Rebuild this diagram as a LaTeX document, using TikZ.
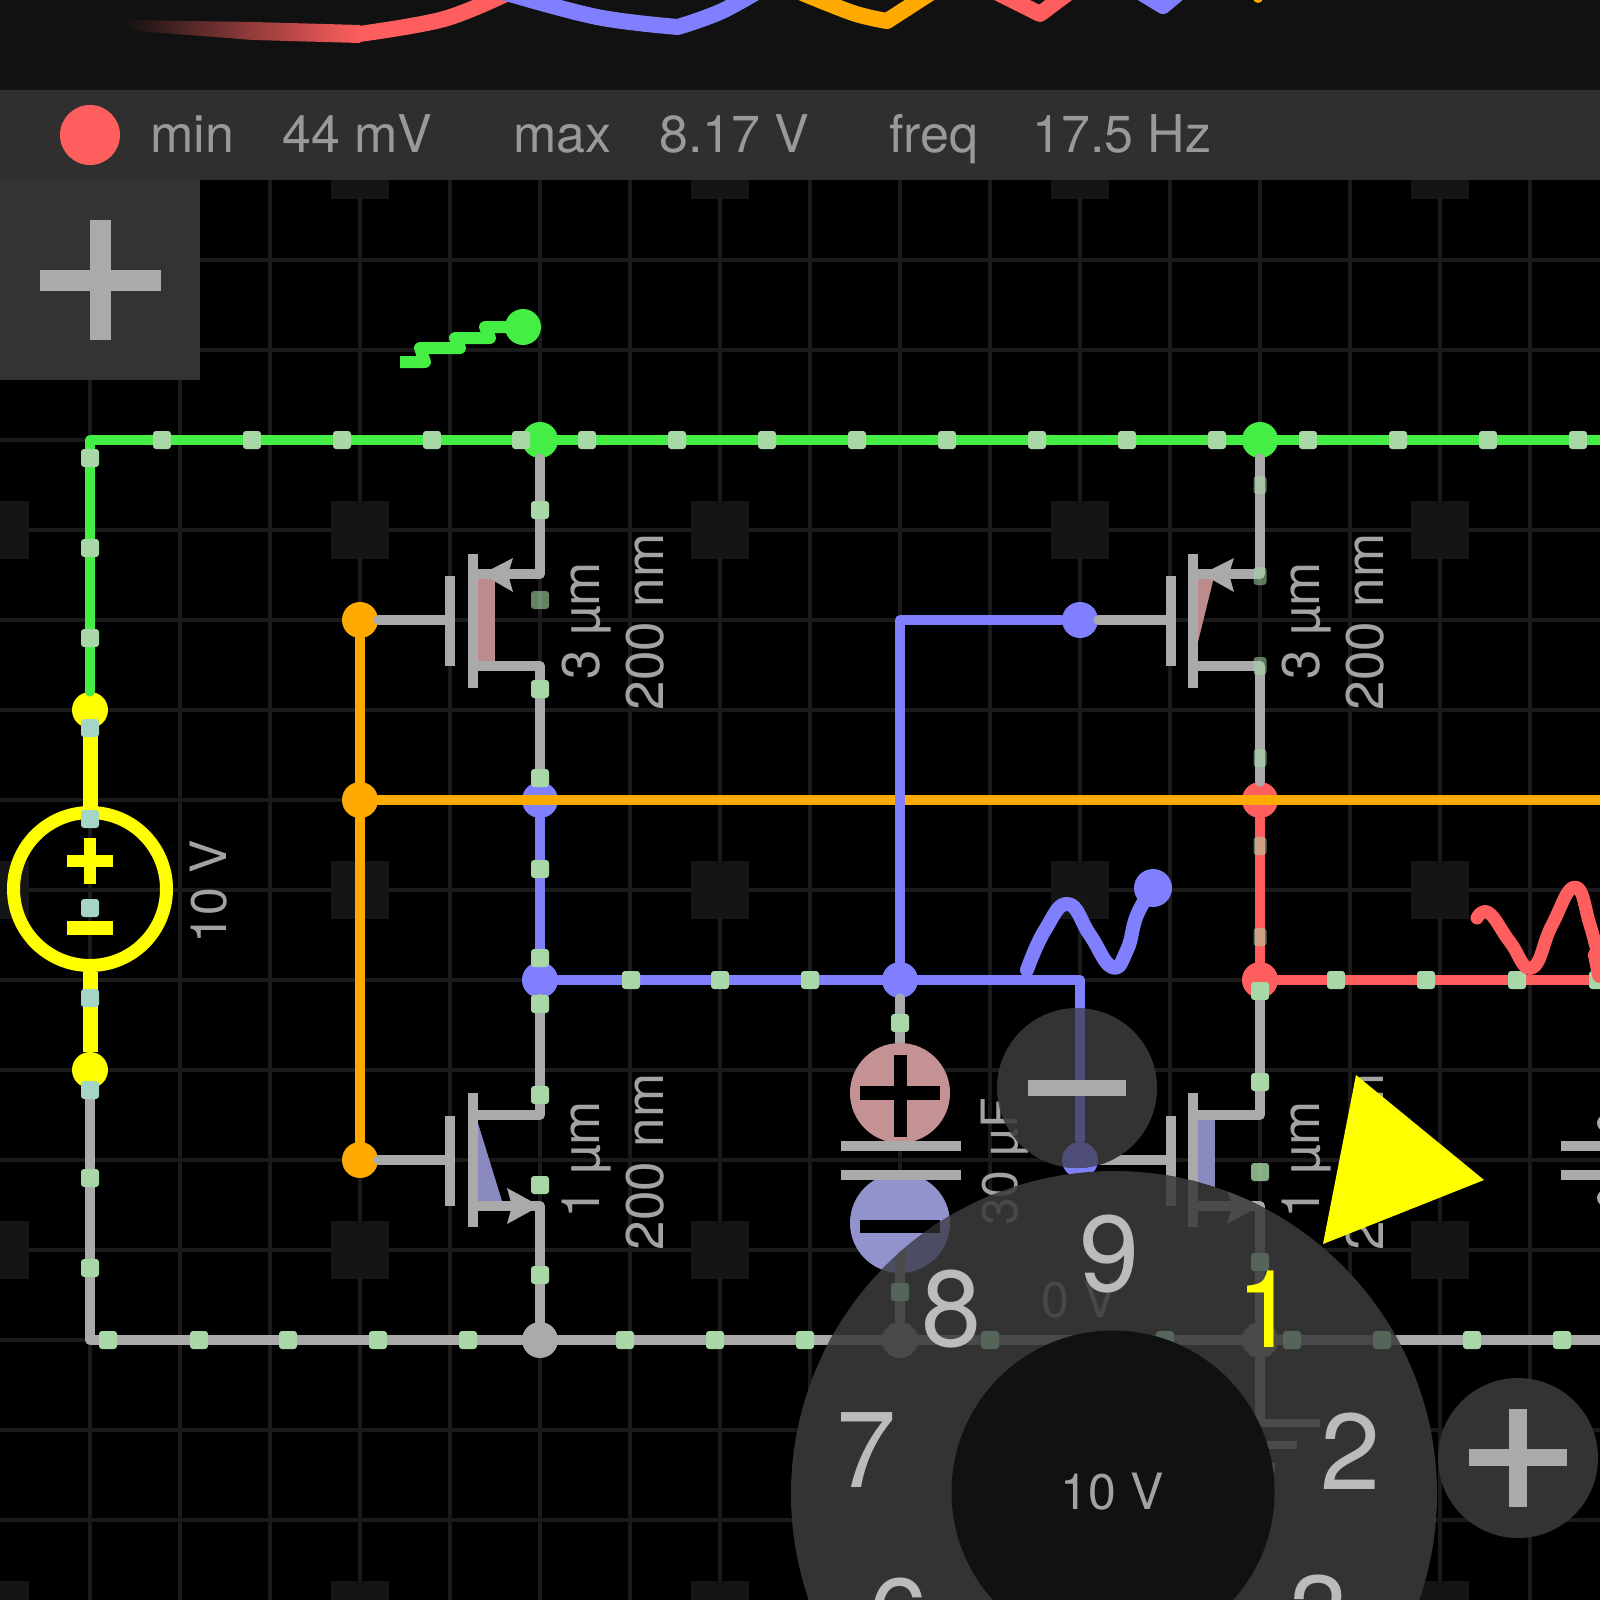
\documentclass[tikz,border=0pt]{standalone}
\usepackage{fontspec}
\setmainfont{TeX Gyre Heros}
\newcommand{\szf}[1]{\fontsize{#1}{#1}\selectfont}
\definecolor{wgreen}{HTML}{44EE44}
\definecolor{wblue}{HTML}{8080FF}
\definecolor{worange}{HTML}{FFAA00}
\definecolor{wred}{HTML}{FF5E5E}
\definecolor{wyellow}{HTML}{FFFF00}
\definecolor{wgray}{HTML}{AAAAAA}
\definecolor{gridc}{HTML}{1A1A1A}
\definecolor{squarec}{HTML}{151515}
\definecolor{scopebg}{HTML}{111111}
\definecolor{barbg}{HTML}{2F2F2F}
\definecolor{panelbg}{HTML}{333333}
\definecolor{dotc}{HTML}{A8D8A8}
\definecolor{dotyc}{HTML}{A5D5C5}
\definecolor{pinkf}{HTML}{BC8C8C}
\definecolor{bluef}{HTML}{8A8AC0}
\definecolor{pinkc}{HTML}{C49292}
\definecolor{bluec}{HTML}{9292CC}
\definecolor{statc}{HTML}{999999}
\definecolor{lblc}{HTML}{A2A2A2}
\definecolor{digitc}{HTML}{BBBBBB}
\definecolor{dimgray}{HTML}{4A4A4A}
\definecolor{dimtext}{HTML}{484848}
\definecolor{dimdotc}{HTML}{55655A}
\definecolor{dimblue}{HTML}{4D4D78}
\definecolor{dimbluec}{HTML}{4C4C62}
\tikzset{
  grid line/.style={gridc,line width=4.5pt},
  darksquare/.style={rectangle,fill=squarec,minimum size=58pt,inner sep=0pt},
  jct/.style={circle,minimum size=36pt,inner sep=0pt,fill=#1},
  cdot/.style={rectangle,rounded corners=3pt,minimum size=18pt,inner sep=0pt,fill=dotc},
  ydot/.style={cdot,fill=dotyc},
  dimdot/.style={cdot,fill=dotc,fill opacity=.6},
  narrowdot/.style={cdot,minimum width=13pt,fill opacity=.55},
  faintdot/.style={cdot,fill=dimdotc},
  wire/.style={#1,line width=9.5pt,line cap=round,line join=round},
  trace/.style={#1,line width=14pt,line cap=round,line join=round},
  scopetrace/.style={#1,line width=16pt,line join=round},
  mosbar/.style={#1,line width=10pt},
  mosbar/.default=wgray,
  lbl/.style={text=lblc,inner sep=0pt,font=\szf{50}},
  wlbl/.style={text=lblc,inner sep=0pt,font=\szf{53}},
  stat/.style={text=statc,inner sep=0pt,anchor=base west,font=\szf{52}},
  dialnum/.style={text=digitc,inner sep=0pt,font=\szf{108}},
  capbar/.style={wgray,line width=10pt},
  btn/.style={circle,minimum size=160pt,inner sep=0pt,fill=panelbg},
}
\begin{document}
\begin{tikzpicture}[x=1pt,y=-1pt]
\useasboundingbox (0,0) rectangle (1600,1600);
\clip (0,0) rectangle (1600,1600);
\fill[black] (0,0) rectangle (1600,1600);
% grid
\foreach \gx in {90,180,...,1530} \draw[grid line] (\gx,170) -- (\gx,1600);
\foreach \gy in {170,260,...,1600} \draw[grid line] (0,\gy) -- (1600,\gy);
\foreach \sx [count=\i] in {0,360,720,1080,1440}
  \foreach \sy [count=\j] in {170,530,890,1250,1610}
    \node[darksquare] (sq\i\j) at (\sx,\sy) {};
% junction nodes
\node[jct=wgreen] (gj1) at (540,440) {};
\node[jct=wgreen] (gj2) at (1260,440) {};
\node[jct=wyellow] (yt) at (90,710) {};
\node[jct=wyellow] (yb) at (90,1070) {};
\node[jct=worange] (og1) at (360,620) {};
\node[jct=worange] (oj) at (360,800) {};
\node[jct=worange] (og2) at (360,1160) {};
\node[jct=wblue] (bj1) at (540,800) {};
\node[jct=wblue] (bj2) at (540,980) {};
\node[jct=wblue] (bj3) at (900,980) {};
\node[jct=wblue] (bg1) at (1080,620) {};
\node[jct=wblue] (bg2) at (1080,1160) {};
\node[jct=wred] (rj1) at (1260,800) {};
\node[jct=wred] (rj2) at (1260,980) {};
\node[jct=wgray] (kj1) at (540,1340) {};
\node[jct=wgray] (kj2) at (900,1340) {};
\node[jct=wgray] (kj3) at (1260,1340) {};
% free ends and corners
\coordinate (c1) at (90,440);
\coordinate (c2) at (90,1340);
\coordinate (c3) at (900,620);
\coordinate (c4) at (1080,980);
\coordinate (e1) at (1610,440);
\coordinate (e2) at (1610,800);
\coordinate (e3) at (1610,980);
\coordinate (e4) at (1610,1340);
\coordinate (gnd) at (1260,1423);
\coordinate (capt) at (900,1146);
\coordinate (capb) at (900,1175);
% mosfet terminals
\coordinate (p1s) at (540,574);  \coordinate (p1d) at (540,666);
\coordinate (p2s) at (1260,574); \coordinate (p2d) at (1260,666);
\coordinate (n1d) at (540,1115); \coordinate (n1s) at (540,1206);
\coordinate (n2d) at (1260,1115);\coordinate (n2s) at (1260,1206);
\coordinate (p1c) at (473,574);  \coordinate (p1e) at (473,666);
\coordinate (p2c) at (1193,574); \coordinate (p2e) at (1193,666);
\coordinate (n1c) at (473,1115); \coordinate (n1e) at (473,1206);
\coordinate (n2c) at (1193,1115);\coordinate (n2e) at (1193,1206);
\coordinate (p1g) at (450,620);  \coordinate (p2g) at (1170,620);
\coordinate (n1g) at (450,1160); \coordinate (n2g) at (1170,1160);
% channel fill
\fill[pinkf] (477,577) rectangle (495,661);
\fill[pinkf] (1197,577) -- (1214,577) -- (1196,650) -- cycle;
\fill[bluef] (477,1120) -- (477,1201) -- (502,1201) -- cycle;
\fill[bluef] (1197,1120) rectangle (1215,1201);
% gray wires
\draw[wire=wgray] (gj1) -- (p1s) -- (p1c);
\draw[wire=wgray] (p1e) -- (p1d) -- (bj1);
\draw[wire=wgray] (gj2) -- (p2s) -- (p2c);
\draw[wire=wgray] (p2e) -- (p2d) -- (rj1);
\draw[wire=wgray] (bj2) -- (n1d) -- (n1c);
\draw[wire=wgray] (n1e) -- (n1s) -- (kj1);
\draw[wire=wgray] (rj2) -- (n2d) -- (n2c);
\draw[wire=wgray] (n2e) -- (n2s) -- (kj3) -- (gnd);
\draw[wire=wgray] (og1) -- (p1g);
\draw[wire=wgray] (og2) -- (n1g);
\draw[wire=wgray] (bg1) -- (p2g);
\draw[wire=wgray] (bg2) -- (n2g);
\draw[wire=wgray] (yb) -- (c2) -- (e4);
\draw[wire=wgray] (bj3) -- (capt);
\draw[wire=wgray] (capb) -- (kj2);
% mosfet bars
\foreach \bx/\by [count=\i] in {473/621,1193/621,473/1160,1193/1160}
  \draw[mosbar] (\bx,\by-67) -- (\bx,\by+67);
\foreach \bx/\by [count=\i] in {450/621,1171/621,450/1161,1171/1161}
  \draw[mosbar] (\bx,\by-45) -- (\bx,\by+45);
% mosfet arrows
\fill[wgray] (482,574) -- (513,558) -- (508,574) -- (513,592) -- cycle;
\fill[wgray] (1202,574) -- (1234,558) -- (1229,574) -- (1234,592) -- cycle;
\fill[wgray] (540,1206) -- (507,1188) -- (512,1206) -- (507,1224) -- cycle;
% coloured wires
\draw[wire=wgreen] (e1) -- (c1) -- (yt);
\draw[wyellow,line width=15pt] (yt) -- (90,808);
\draw[wyellow,line width=15pt] (90,972) -- (yb);
\draw[wire=worange] (og1) -- (og2);
\draw[wire=worange] (oj) -- (e2);
\draw[wire=wblue] (bj1) -- (bj2);
\draw[wire=wblue] (bj2) -- (c4) -- (bg2);
\draw[wire=wblue] (bg1) -- (c3) -- (bj3);
\draw[wire=wred] (rj1) -- (rj2) -- (e3);
% voltage source
\node[circle,draw=wyellow,line width=13pt,minimum size=153pt,inner sep=0pt] (vs) at (90,889) {};
\fill[wyellow] (67,855) rectangle (113,867);
\fill[wyellow] (84,838) rectangle (96,884);
\fill[wyellow] (67,921) rectangle (113,935);
% capacitor
\node[circle,fill=pinkc,minimum size=100pt,inner sep=0pt] (cp) at (900,1093) {};
\node[circle,fill=bluec,minimum size=100pt,inner sep=0pt] (cm) at (900,1223) {};
\fill[black] (860,1086) rectangle (940,1100);
\fill[black] (894,1055) rectangle (907,1137);
\fill[black] (860,1220) rectangle (940,1233);
\draw[capbar] (841,1146) -- (961,1146);
\draw[capbar] (841,1175) -- (961,1175);
% right capacitor
\draw[capbar] (1561,1146) -- (1610,1146);
\draw[capbar] (1561,1175) -- (1610,1175);
\fill[wgray] (1605,1123) circle (8);
\fill[wgray] (1605,1198) circle (8);
% current dots
\foreach \p [count=\i] in {162,252,342,432,521,587,677,767,857,947,1037,1127,1217,1308,1398,1488,1578}
  \node[cdot] (gd\i) at (\p,440) {};
\foreach \p [count=\i] in {458,548,638} \node[cdot] (ld\i) at (90,\p) {};
\foreach \p [count=\i] in {728,819,908,998,1090} \node[ydot] (yd\i) at (90,\p) {};
\foreach \p [count=\i] in {1178,1268} \node[cdot] (kd\i) at (90,\p) {};
\foreach \p [count=\i] in {108,199,288,378,468,625,715,805,1472,1562}
  \node[cdot] (bd\i) at (\p,1340) {};
\foreach \p [count=\i] in {510,689,778,869,958,1004,1095,1185,1275} \node[cdot] (md\i) at (540,\p) {};
\node[dimdot] (md0) at (540,600) {};
\foreach \p [count=\i] in {485,666,758,846,937} \node[narrowdot] (rn\i) at (1260,\p) {};
\foreach \p [count=\i] in {991,1082} \node[cdot] (rd\i) at (1260,\p) {};
\node[narrowdot] (rd0) at (1260,576) {};
\node[cdot,fill opacity=.8] (rd9) at (1260,1172) {};
\foreach \p [count=\i] in {631,720,810} \node[cdot] (hd\i) at (\p,980) {};
\foreach \p [count=\i] in {1336,1426,1517,1598} \node[cdot] (sd\i) at (\p,980) {};
\node[cdot] (vd1) at (900,1023) {};
% component labels
\node[lbl,rotate=90] (l1) at (209,892) {10 V};
\node[wlbl,rotate=90] (l2) at (587,621) {3 µm};
\node[wlbl,rotate=90] (l3) at (645,622) {200 nm};
\node[wlbl,rotate=90] (l4) at (1307,621) {3 µm};
\node[wlbl,rotate=90] (l5) at (1365,622) {200 nm};
\node[wlbl,rotate=90] (l6) at (587,1160) {1 µm};
\node[wlbl,rotate=90] (l7) at (645,1162) {200 nm};
\node[wlbl,rotate=90] (l8) at (1307,1160) {1 µm};
\node[wlbl,rotate=90] (l9) at (1365,1162) {200 nm};
\node[lbl,rotate=90] (l10) at (1005,1162) {30 µF};
% probe traces
\draw[wgreen,line width=12pt,line join=round] (400,362) -- (425,362) -- (420,348) -- (460,348) -- (455,338) -- (490,338) -- (485,327) -- (523,327);
\node[jct=wgreen] (th1) at (523,327) {};
\draw[trace=wblue] plot[smooth,tension=.8] coordinates {(1027,970) (1045,930) (1068,904) (1090,935) (1112,967) (1127,950) (1137,915) (1153,888)};
\node[jct=wblue,minimum size=38pt] (th2) at (1153,888) {};
\draw[trace=wred,line width=13pt] plot[smooth,tension=.8] coordinates {(1477,918) (1489,913) (1510,942) (1532,968) (1552,925) (1575,887) (1590,925) (1600,965)};
\draw[trace=wred,line width=16pt] (1596,955) -- (1600,975);
% scope area
\fill[scopebg] (0,0) rectangle (1600,91);
\fill[barbg] (0,90) rectangle (1600,180);
\shade[left color=scopebg,right color=wred] (123,20) -- (253,22) -- (360,25) -- (360,43) -- (253,40) -- (123,30) -- cycle;
\draw[scopetrace=wred] plot[smooth,tension=.6] coordinates {(359,34) (444,19) (510,-8)};
\draw[scopetrace=wblue] plot[smooth,tension=.6] coordinates {(503,-8) (597,17) (678,27)};
\draw[scopetrace=wblue,line cap=round] plot[smooth,tension=.6] coordinates {(678,27) (720,12) (760,-10)};
\draw[scopetrace=worange] plot[smooth,tension=.6] coordinates {(800,-8) (853,13) (887,21)};
\draw[scopetrace=worange,line cap=round] (887,21) -- (935,-10);
\draw[scopetrace=wred,line cap=round] (996,-8) -- (1040,14) -- (1072,-10);
\draw[scopetrace=wblue,line cap=round] (1140,-8) -- (1163,6) -- (1182,-10);
\fill[worange] (1258,-2) circle (5);
% status bar
\node[circle,fill=wred,minimum size=60pt,inner sep=0pt] (rec) at (90,135) {};
\node[stat] (s1) at (150,152) {min};
\node[stat] (s2) at (282,152) {44 mV};
\node[stat] (s3) at (513,152) {max};
\node[stat] (s4) at (659,152) {8.17 V};
\node[stat] (s5) at (889,152) {freq};
\node[stat] (s6) at (1032,152) {17.5 Hz};
% plus panel
\fill[panelbg] (0,180) rectangle (200,380);
\fill[wgray] (90,220) rectangle (111,340);
\fill[wgray] (40,270) rectangle (161,291);
% minus button, with what shows through it
\node[btn] (minusb) at (1077,1088) {};
\begin{scope}
  \clip (1077,1088) circle (80);
  \draw[dimblue,line width=9.5pt] (c4) -- (bg2);
  \fill[dimblue] (bg2.center) circle (18);
  \node[text=dimtext,inner sep=0pt,font=\szf{50},rotate=90] (l10b) at (1005,1162) {30 µF};
\end{scope}
\fill[wgray] (1028,1080) rectangle (1126,1096);
% dial, with what shows through it
\node[circle,fill=panelbg,minimum size=646pt,inner sep=0pt] (dial) at (1114,1494) {};
\begin{scope}
  \clip (1114,1494) circle (323);
  \fill[dimbluec] (cm.center) circle (50);
  \fill[panelbg!70!black] (860,1220) rectangle (940,1233);
  \draw[dimgray,line width=9.5pt] (capb) -- (kj2);
  \draw[dimgray,line width=9.5pt] (c2) -- (e4);
  \draw[dimgray,line width=9.5pt] (n2c) -- (n2d) -- (n2s) -- (kj3) -- (gnd);
  \draw[dimgray,line width=9.5pt] (n2e) -- (n2s);
  \fill[dimgray] (1260,1206) -- (1227,1188) -- (1232,1206) -- (1227,1224) -- cycle;
  \draw[mosbar=dimgray] (1193,1093) -- (1193,1227);
  \draw[mosbar=dimgray] (1171,1116) -- (1171,1206);
  \draw[dimgray,line width=8pt] (1205,1423) -- (1320,1423);
  \draw[dimgray,line width=8pt] (1225,1445) -- (1297,1445);
  \draw[dimgray,line width=8pt] (1245,1467) -- (1275,1467);
  \fill[dimgray] (kj2.center) circle (18);
  \fill[dimgray] (kj3.center) circle (18);
  \foreach \p [count=\i] in {990,1165,1292,1382} \node[faintdot] (fa\i) at (\p,1340) {};
  \node[faintdot] (fb1) at (900,1292) {};
  \node[faintdot] (fb2) at (1260,1262) {};
  \node[text=dimtext,inner sep=0pt,font=\szf{50},rotate=90] (l10c) at (1005,1162) {30 µF};
  \node[text=dimtext,inner sep=0pt,font=\szf{53},rotate=90] (l8c) at (1307,1160) {1 µm};
  \node[text=dimtext,inner sep=0pt,font=\szf{53},rotate=90] (l9c) at (1365,1162) {200 nm};
  \node[text=dimtext,inner sep=0pt,font=\szf{50}] (l11) at (1079,1300) {0 V};
\end{scope}
\node[circle,fill=scopebg,minimum size=323pt,inner sep=0pt] (dialin) at (1113,1492) {};
\node[lbl] (dv) at (1112,1492) {10 V};
\node[dialnum] (n9) at (1110,1254) {9};
\node[dialnum] (n8) at (952,1309) {8};
\node[dialnum] (n7) at (867,1450) {7};
\node[dialnum] (n6) at (899,1617) {6};
\node[dialnum] (n3) at (1320,1614) {3};
\node[dialnum] (n2) at (1351,1451) {2};
\node[dialnum,text=wyellow] (n1) at (1267,1309) {1};
% plus button
\node[btn] (plusb) at (1518,1458) {};
\fill[wgray] (1469,1449) rectangle (1567,1466);
\fill[wgray] (1509,1409) rectangle (1527,1507);
% pointer
\fill[wyellow] (1356,1075) -- (1484,1180) -- (1323,1244) -- cycle;
\end{tikzpicture}
\end{document}
